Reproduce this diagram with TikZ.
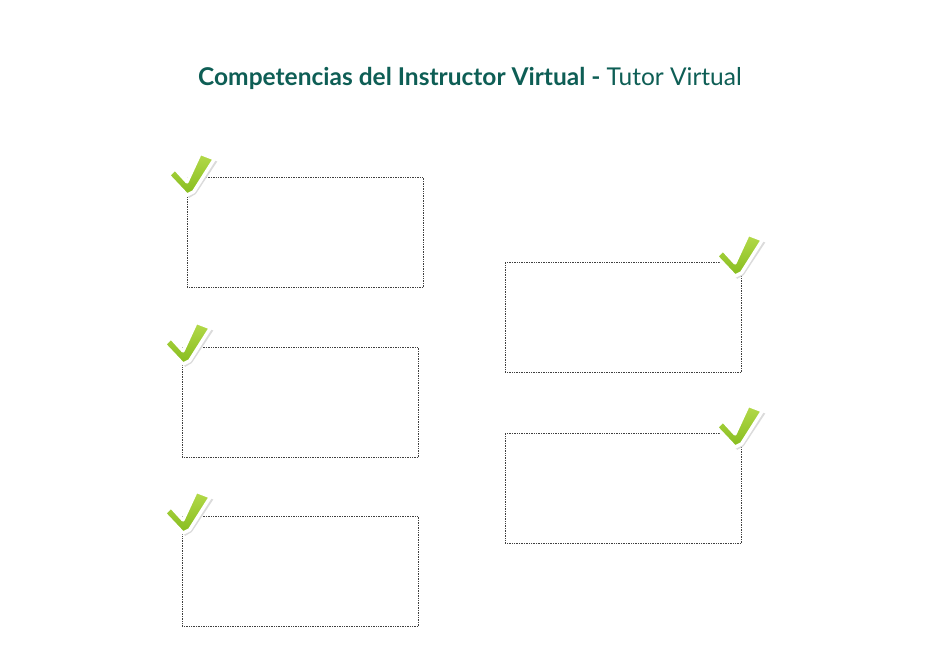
\documentclass[tikz,border=0pt]{standalone}
\usepackage{fontspec}
\setmainfont{Lato}
\definecolor{titlecol}{HTML}{0E5E55}
\definecolor{chkA}{HTML}{B4DA4A}
\definecolor{chkB}{HTML}{86BC1E}
\begin{document}
\begin{tikzpicture}[x=1pt,y=-1pt,
  cardbox/.style={draw=black!75, densely dotted, line width=0.7pt, minimum width=236pt, minimum height=110pt, inner sep=0pt, anchor=north west},
  tick/.pic={
    \begin{scope}[scale=1.1]
    \fill[black!14] (2,3.5) -- (-15.5,-14) -- (-9,-21) -- (2,-9) -- (14,-35) -- (27.5,-29.5) -- (8,0) -- cycle;
    \shadedraw[draw=white, line width=3.4pt, line join=round, bottom color=chkB, top color=chkA]
      (0,1) -- (-17,-17) -- (-11,-23) -- (0,-11) -- (12,-37) -- (25,-32) -- (6,-2) -- cycle;
    \end{scope}
  }]
\useasboundingbox (0,0) rectangle (940,660);
\node[font=\fontsize{24.5}{28}\selectfont, text=titlecol] (title) at (470,78) {\textbf{Competencias del Instructor Virtual -} Tutor Virtual};
\node[cardbox] (b1) at (187,177) {};
\node[cardbox] (b2) at (182,347) {};
\node[cardbox] (b3) at (182,516) {};
\node[cardbox] (b4) at (505,262) {};
\node[cardbox] (b5) at (505,433) {};
\pic at (187,194) {tick};
\pic at (183,363) {tick};
\pic at (183,532) {tick};
\pic at (735,275) {tick};
\pic at (735,446) {tick};
\end{tikzpicture}
\end{document}
